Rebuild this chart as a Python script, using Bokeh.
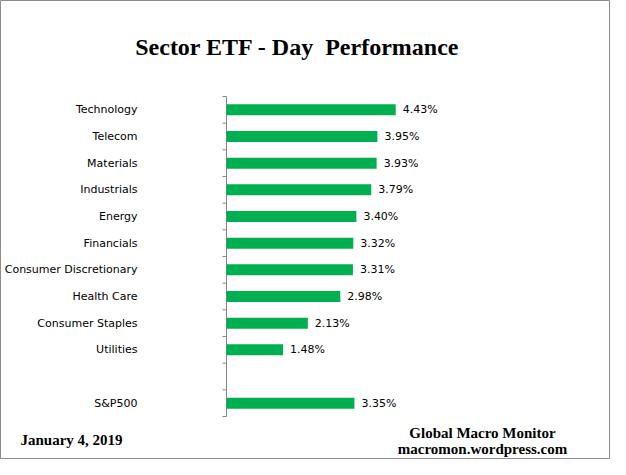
import math
from bokeh.plotting import figure
from bokeh.models import Range1d, ColumnDataSource, Label
from bokeh.core.properties import value
from bokeh.embed import file_html
from bokeh.resources import INLINE

# ---- data ----
sectors = ["Technology", "Telecom", "Materials", "Industrials", "Energy",
           "Financials", "Consumer Discretionary", "Health Care",
           "Consumer Staples", "Utilities"]
sector_values = [4.43, 3.95, 3.93, 3.79, 3.40, 3.32, 3.31, 2.98, 2.13, 1.48]
benchmark_label = "S&P500"
benchmark_value = 3.35
title_text = "Sector ETF - Day \u00a0Performance"
date_text = "January 4, 2019"
source_lines = ["Global Macro Monitor", "macromon.wordpress.com"]

# rows (blank row before benchmark)
row_labels = sectors + [""] + [benchmark_label]
bar_labels = sectors + [benchmark_label]
bar_values = sector_values + [benchmark_value]
bar_rows = [row_labels.index(c) + 0.5 for c in bar_labels]
n_rows = len(row_labels)

# ---- layout (pixels) ----
W, H = 610, 459
axis_px = 226          # x pixel of the value axis
top_px = 96            # y pixel of first row boundary
row_px = 320 / n_rows  # row height in pixels
unit_px = 38.2         # pixels per 1 %

src = ColumnDataSource(dict(
    y=bar_rows,
    v=bar_values,
    txt=[f"{v:.2f}%" for v in bar_values],
))
lab_src = ColumnDataSource(dict(
    y=[i + 0.5 for i in range(n_rows)],
    x=[0] * n_rows,
    t=row_labels,
))
tick_src = ColumnDataSource(dict(
    y=list(range(n_rows + 1)),
    x=[0] * (n_rows + 1),
))

p = figure(width=W, height=H, output_backend="svg", toolbar_location=None,
           x_range=Range1d(-axis_px / unit_px, (W - axis_px) / unit_px),
           y_range=Range1d((H - top_px) / row_px, -top_px / row_px),
           min_border=0, x_axis_location=None, y_axis_location=None)
p.outline_line_color = "#8c8c8c"
p.outline_line_width = 1
p.xgrid.visible = False
p.ygrid.visible = False
p.background_fill_color = "white"
p.border_fill_color = "white"

# value axis line + ticks at row boundaries
p.segment(x0=0, y0=0, x1=0, y1=n_rows, line_color="#868686", line_width=1)
p.ray(x="x", y="y", source=tick_src, length=4, length_units="screen",
      angle=math.pi, line_color="#868686", line_width=1)

# bars
p.hbar(y="y", right="v", left=0, height=0.41, source=src,
       fill_color="#00B050", line_color=None)
p.text(x="v", y="y", text="txt", source=src, x_offset=7,
       text_baseline="middle", text_align="left",
       text_font=value("DejaVu Sans"), text_font_size="11px",
       text_color="#000000")

# category labels
p.text(x="x", y="y", text="t", source=lab_src, x_offset=-89,
       text_baseline="middle", text_align="right",
       text_font=value("DejaVu Sans"), text_font_size="11px",
       text_color="#000000")

serif = "Liberation Serif"
p.add_layout(Label(x=297, y=H - 46, x_units="screen", y_units="screen",
                   text=title_text, text_font=serif, text_font_style="bold",
                   text_font_size="24px", text_align="center",
                   text_baseline="middle", text_color="#000000"))
p.add_layout(Label(x=20, y=H - 439, x_units="screen", y_units="screen",
                   text=date_text, text_font=serif, text_font_style="bold",
                   text_font_size="15px", text_align="left",
                   text_baseline="middle", text_color="#000000"))
for k, line in enumerate(source_lines):
    p.add_layout(Label(x=482, y=H - 432 - 16 * k, x_units="screen", y_units="screen",
                       text=line, text_font=serif, text_font_style="bold",
                       text_font_size="15px", text_align="center",
                       text_baseline="middle", text_color="#000000"))

open("out.html", "w").write(file_html(p, INLINE))
